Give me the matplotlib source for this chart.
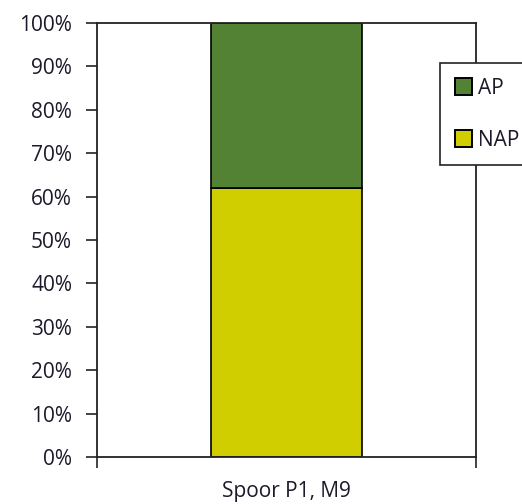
import matplotlib.pyplot as plt
from matplotlib.patches import Patch
from matplotlib.ticker import PercentFormatter

categories = ["Spoor P1, M9"]
nap = [62]
ap = [38]
series_labels = ["AP", "NAP"]
colors = {"AP": "#548235", "NAP": "#D0CE00"}

plt.rcParams["font.family"] = ["Open Sans", "DejaVu Sans"]
TEXT = "#1a1a2a"

fig = plt.figure(figsize=(5.22, 5.04), dpi=100)
ax = fig.add_axes([97 / 522, 47 / 504, 379 / 522, 434 / 504])

x = range(len(categories))
ax.bar(x, nap, width=0.4, color=colors["NAP"], edgecolor="black", linewidth=1.2)
ax.bar(x, ap, bottom=nap, width=0.4, color=colors["AP"], edgecolor="black", linewidth=1.2)

ax.set_xlim(-0.5, 0.5)
ax.set_ylim(0, 100)
ax.set_yticks(range(0, 101, 10))
ax.yaxis.set_major_formatter(PercentFormatter(decimals=0))
ax.set_xticks([-0.5, 0.5])
ax.set_xticklabels(["", ""])
ax.tick_params(axis="y", labelsize=15, length=8, width=1.2, colors="#222222",
               labelcolor=TEXT, pad=10)
ax.tick_params(axis="x", length=8, width=1.2, colors="#222222")
for s in ax.spines.values():
    s.set_linewidth(1.3)
    s.set_color("#222222")

# category name sits under the bar, between the two boundary ticks
ax.annotate(categories[0], xy=(0, 0), xycoords=("data", "axes fraction"),
            xytext=(0, -34), textcoords="offset pixels",
            ha="center", va="center", fontsize=15, color=TEXT)

handles = [Patch(facecolor=colors[k], edgecolor="black", linewidth=1.4) for k in series_labels]
leg = fig.legend(handles, series_labels, loc="upper left",
                 bbox_to_anchor=(440 / 522, 1 - 63 / 504), fontsize=15,
                 frameon=True, fancybox=False, edgecolor="#222222", framealpha=1,
                 handlelength=0.85, handleheight=0.85, handletextpad=0.25,
                 labelspacing=1.5, borderpad=0.7, borderaxespad=0)
leg.get_frame().set_linewidth(1.2)
for t in leg.get_texts():
    t.set_color(TEXT)

fig.savefig("out.png", dpi=100)
